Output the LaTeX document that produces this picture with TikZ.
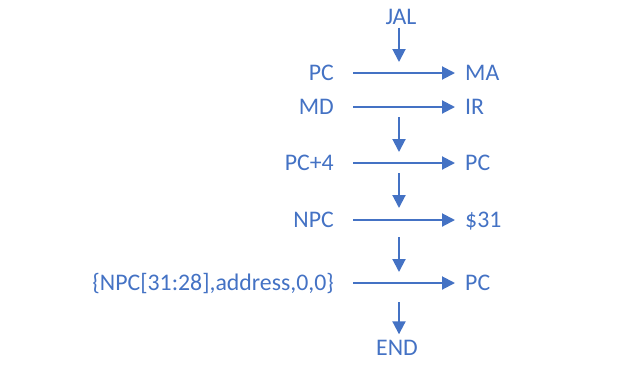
\documentclass[tikz,border=0pt]{standalone}
\usepackage{fontspec}
\setmainfont{Carlito}
\usetikzlibrary{arrows.meta}
\definecolor{flowblue}{HTML}{4472C4}
\begin{document}
\begin{tikzpicture}[x=1pt,y=-1pt,
  lbl/.style={inner sep=0pt,text height=15pt,text depth=0pt,
    text=flowblue,font=\fontsize{23.8}{28}\selectfont},
  arr/.style={draw=flowblue,line width=2pt,
    -{Triangle[length=13pt,width=13pt]}}]
\useasboundingbox (0,0) rectangle (623,365);

% start / end markers
\node[lbl] (jal) at (401,17) {JAL};
\node[lbl] (end) at (397,348) {END};

% register transfers: source on the left, destination on the right
\node[lbl,anchor=east] (pca)  at (334,73)  {PC};
\node[lbl,anchor=west] (ma)   at (465,73)  {MA};
\node[lbl,anchor=east] (md)   at (334,107) {MD};
\node[lbl,anchor=west] (ir)   at (465,107) {IR};
\node[lbl,anchor=east] (pc4)  at (334,163) {PC+4};
\node[lbl,anchor=west] (pcb)  at (465,163) {PC};
\node[lbl,anchor=east] (npc)  at (334,220) {NPC};
\node[lbl,anchor=west] (r31)  at (465,220) {\$31};
\node[lbl,anchor=east] (jadr) at (334,283) {\{NPC[31:28],address,0,0\}};
\node[lbl,anchor=west] (pcc)  at (465,283) {PC};

\foreach \a/\b in {pca/ma,md/ir,pc4/pcb,npc/r31,jadr/pcc}
  \draw[arr] ([xshift=19pt]\a.east) -- ([xshift=-10pt]\b.west);

% step points on the flow spine
\coordinate (s1) at (399,73);
\coordinate (s2) at (399,107);
\coordinate (s3) at (399,163);
\coordinate (s4) at (399,220);
\coordinate (s5) at (399,283);

% control flow between steps
\draw[arr,shorten >=11pt] (jal.south -| s1) ++(0,3) -- (s1);
\draw[arr,shorten <=10pt,shorten >=11pt] (s2) -- (s3);
\draw[arr,shorten <=10pt,shorten >=12pt] (s3) -- (s4);
\draw[arr,shorten <=17pt,shorten >=11pt] (s4) -- (s5);
\draw[arr,shorten <=19pt,shorten >=6pt] (s5) -- (s5 |- end.north);
\end{tikzpicture}
\end{document}
